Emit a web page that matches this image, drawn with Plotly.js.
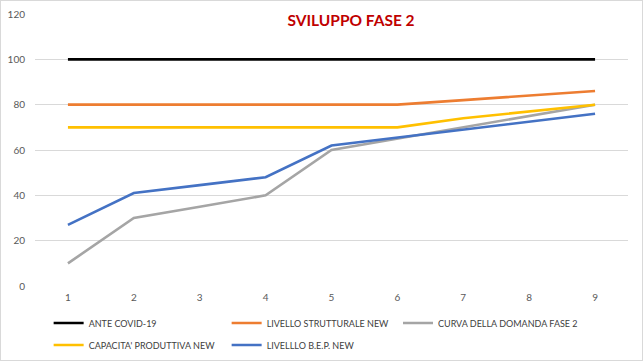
<!DOCTYPE html>
<html><head><meta charset="utf-8">
<script src="https://cdn.plot.ly/plotly-3.0.1.min.js"></script>
<style>
html,body{margin:0;padding:0;background:#fff;}
#wrap{position:relative;width:643px;height:361px;}
#chart{width:643px;height:361px;}
#frame{position:absolute;left:0;top:0;width:641px;height:359px;border:1px solid #d9d9d9;pointer-events:none;}
</style></head>
<body>
<div id="wrap"><div id="chart"></div><div id="frame"></div></div>
<script>
const categories = [1, 2, 3, 4, 5, 6, 7, 8, 9];
const anteCovid = [100, 100, 100, 100, 100, 100, 100, 100, 100];
const livelloStrutturale = [80, 80, 80, 80, 80, 80, 82, 84, 86];
const curvaDomanda = [10, 30, 35, 40, 60, 65, 70, 75, 80];
const capacitaProduttiva = [70, 70, 70, 70, 70, 70, 74, 77, 80];
const livelloBEP = [27, 41, 44.5, 48, 62, 65.5, 69, 72.5, 76];
const yTicks = [0, 20, 40, 60, 80, 100, 120];

const names = ["ANTE COVID-19", "LIVELLO STRUTTURALE NEW", "CURVA DELLA DOMANDA FASE 2", "CAPACITA' PRODUTTIVA NEW", "LIVELLLO B.E.P. NEW"];
const colors = ["#000000", "#ED7D31", "#A5A5A5", "#FFC000", "#4472C4"];
const series = [anteCovid, livelloStrutturale, curvaDomanda, capacitaProduttiva, livelloBEP];
const legends = ["legend", "legend", "legend3", "legend2", "legend2"];

const traces = series.map((s, i) => ({
  x: categories, y: s, type: "scatter", mode: "lines", name: names[i],
  line: {color: colors[i], width: 2.6}, legend: legends[i]
}));

const legendFont = {family: "Lato, 'Liberation Sans Narrow', sans-serif", size: 9, color: "#404040"};
const legX = 0.023;
const row1 = -(323 - 286) / 272, row2 = -(345 - 286) / 272;
function leg(x, y, w) {
  return {orientation: "h", x: x, xanchor: "left", y: y, yanchor: "middle",
          entrywidth: w, entrywidthmode: "pixels", font: legendFont, bgcolor: "rgba(0,0,0,0)"};
}
const layout = {
  width: 643, height: 361,
  margin: {l: 35, r: 15, t: 14, b: 75, autoexpand: false},
  paper_bgcolor: "#ffffff", plot_bgcolor: "#ffffff",
  title: {text: "<b>SVILUPPO FASE 2</b>", font: {family: "Lato, sans-serif", size: 15.5, color: "#C00000"},
          x: 351/643, xanchor: "center", xref: "container", y: 1 - 21/361, yanchor: "middle", yref: "container"},
  xaxis: {type: "linear", range: [0.5, 9.5], tickvals: categories, ticktext: categories.map(String),
          showgrid: false, zeroline: false, showline: false, ticks: "", ticklabelstandoff: 4,
          tickfont: {family: "Lato, sans-serif", size: 10, color: "#595959"}, fixedrange: true},
  yaxis: {range: [0, 120], tickvals: yTicks, showgrid: true, gridcolor: "#d9d9d9", gridwidth: 1,
          zeroline: false, showline: false, ticks: "", ticklabelstandoff: 9,
          tickfont: {family: "Lato, sans-serif", size: 10, color: "#595959"}, fixedrange: true},
  showlegend: true,
  legend: leg(legX, row1, 133),
  legend3: leg((398 - 35) / 593, row1, 170),
  legend2: leg(legX, row2, 133)
};
Plotly.newPlot("chart", traces, layout, {displayModeBar: false, staticPlot: true});
</script>
</body></html>
